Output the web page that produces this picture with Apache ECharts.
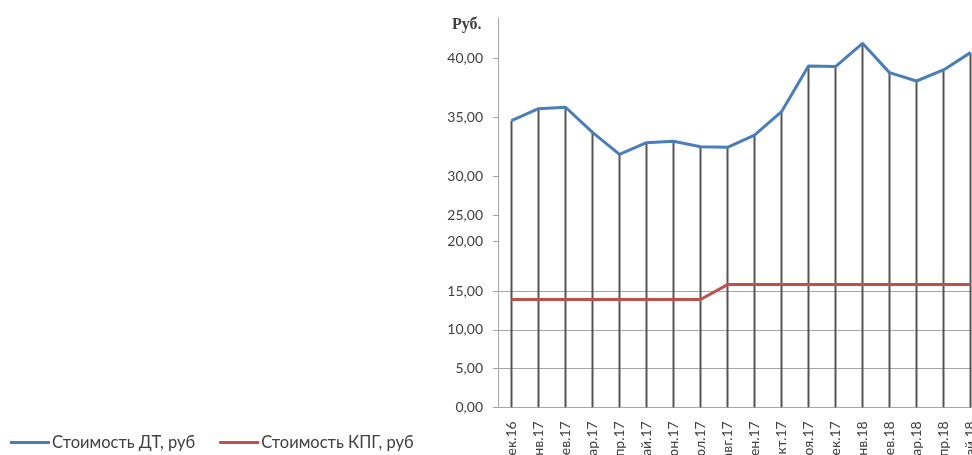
<!DOCTYPE html>
<html>
<head>
<meta charset="utf-8">
<script src="https://cdn.jsdelivr.net/npm/echarts@6/dist/echarts.min.js"></script>
<style>
  html, body { margin: 0; padding: 0; background: #ffffff; }
  #chart { width: 972px; height: 455px; }
</style>
</head>
<body>
<div id="chart"></div>
<script>
// Monthly categories (Dec 2016 – May 2018)
const categories = [
  'дек.16', 'янв.17', 'фев.17', 'мар.17', 'апр.17', 'май.17', 'июн.17', 'июл.17', 'авг.17',
  'сен.17', 'окт.17', 'ноя.17', 'дек.17', 'янв.18', 'фев.18', 'мар.18', 'апр.18', 'май.18'
];

// Diesel fuel price, rub
const dtPrice = [
  34.70, 35.72, 35.84, 33.71, 31.84, 32.83, 32.95, 32.49, 32.44,
  33.48, 35.46, 39.35, 39.29, 41.27, 38.78, 38.07, 39.01, 40.48
];

// Compressed natural gas price, rub
const cngPrice = [
  13.90, 13.90, 13.90, 13.90, 13.90, 13.90, 13.90, 13.90, 15.83,
  15.83, 15.83, 15.83, 15.83, 15.83, 15.83, 15.83, 15.83, 15.83
];

// Tick values handled by each segment of the broken value axis (top to bottom)
const segmentTicks = [[35, 40], [30], [25], [20], [0, 5, 10, 15]];
const segmentRanges = [[30, 43.42], [25, 30], [20, 25], [15, 20], [0, 15]];

// Pixel layout of the segments of the value axis
const segmentLayout = [
  { top: 18, height: 158 },
  { top: 176, height: 39 },
  { top: 215, height: 26 },
  { top: 241, height: 50 },
  { top: 291, height: 116.3 }
];

const LABEL_FONT = 'Lato, "Open Sans", "Liberation Sans", sans-serif';
const GRID_COLOR = '#a6a6a6';
const TEXT_COLOR = '#404040';

const grids = [], xAxes = [], yAxes = [], series = [];
const last = segmentLayout.length - 1;

segmentLayout.forEach((seg, i) => {
  grids.push({
    left: 498, width: 486, top: seg.top, height: seg.height,
    containLabel: false,
    outerBoundsMode: 'none'
  });

  xAxes.push({
    gridIndex: i,
    type: 'category',
    data: categories,
    boundaryGap: true,
    show: i === last,
    axisLine: { show: false },
    axisTick: { show: false },
    splitLine: { show: false },
    axisLabel: {
      show: i === last,
      rotate: 90,
      margin: 14,
      interval: 0,
      fontSize: 14,
      fontFamily: LABEL_FONT,
      color: TEXT_COLOR
    }
  });

  yAxes.push({
    gridIndex: i,
    type: 'value',
    min: segmentRanges[i][0],
    max: segmentRanges[i][1],
    interval: 5,
    axisLine: { show: true, lineStyle: { color: GRID_COLOR, width: 1 } },
    axisTick: {
      show: true,
      length: 5,
      customValues: segmentTicks[i],
      lineStyle: { color: GRID_COLOR, width: 1 }
    },
    axisLabel: {
      customValues: segmentTicks[i],
      margin: 15,
      fontSize: 14,
      fontFamily: LABEL_FONT,
      color: TEXT_COLOR,
      formatter: v => v.toFixed(2).replace('.', ',')
    },
    splitLine: {
      show: true,
      showMinLine: i === last,
      showMaxLine: i !== 0,
      lineStyle: { color: GRID_COLOR, width: 1 }
    }
  });

  // drop lines from each diesel point down to the category axis
  series.push({
    type: 'bar',
    xAxisIndex: i,
    yAxisIndex: i,
    data: dtPrice,
    barWidth: 2,
    clip: true,
    silent: true,
    itemStyle: { color: '#555555' },
    z: 2
  });
});

series.push({
  name: 'Стоимость ДТ, руб',
  type: 'line',
  xAxisIndex: 0,
  yAxisIndex: 0,
  data: dtPrice,
  symbol: 'none',
  lineStyle: { color: '#4a7ebb', width: 3 },
  itemStyle: { color: '#4a7ebb' },
  z: 5
});

series.push({
  name: 'Стоимость КПГ, руб',
  type: 'line',
  xAxisIndex: last,
  yAxisIndex: last,
  data: cngPrice,
  symbol: 'none',
  clip: false,
  lineStyle: { color: '#c0504d', width: 3 },
  itemStyle: { color: '#c0504d' },
  z: 5
});

const chart = echarts.init(document.getElementById('chart'), null, { renderer: 'canvas' });
chart.setOption({
  animation: false,
  backgroundColor: '#ffffff',
  title: {
    text: 'Руб.',
    left: 447,
    top: 12,
    textStyle: {
      fontFamily: '"Liberation Serif", "DejaVu Serif", serif',
      fontSize: 16,
      fontWeight: 'bold',
      color: '#404040'
    }
  },
  legend: {
    data: ['Стоимость ДТ, руб', 'Стоимость КПГ, руб'],
    left: 10,
    top: 434,
    padding: 0,
    icon: 'rect',
    itemWidth: 40,
    itemHeight: 3,
    itemGap: 24,
    textStyle: { fontFamily: LABEL_FONT, fontSize: 16.5, color: TEXT_COLOR, padding: [0, 0, 0, -3] }
  },
  grid: grids,
  xAxis: xAxes,
  yAxis: yAxes,
  series: series
});
</script>
</body>
</html>
